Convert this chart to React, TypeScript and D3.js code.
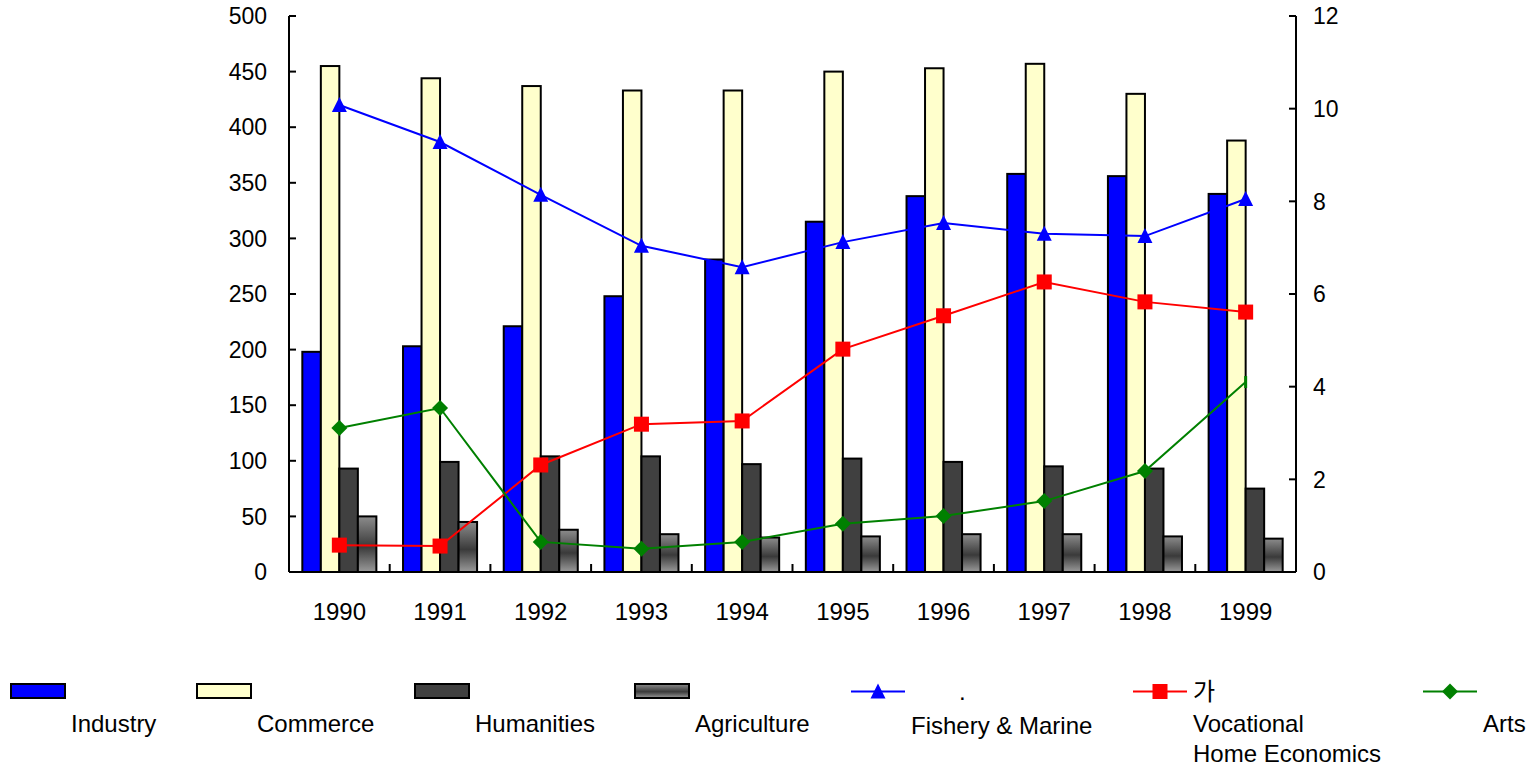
import * as d3 from "d3";

const years = ["1990", "1991", "1992", "1993", "1994", "1995", "1996", "1997", "1998", "1999"];

// bar series (left axis)
const industry = [198, 203, 221, 248, 281, 315, 338, 358, 356, 340];
const commerce = [455, 444, 437, 433, 433, 450, 453, 457, 430, 388];
const humanities = [93, 99, 104, 104, 97, 102, 99, 95, 93, 75];
const agriculture = [50, 45, 38, 34, 31, 32, 34, 34, 32, 30];

// line series (right axis)
const fishery = [10.08, 9.28, 8.14, 7.04, 6.58, 7.12, 7.53, 7.3, 7.25, 8.05];
const vocational = [0.58, 0.56, 2.31, 3.19, 3.26, 4.81, 5.53, 6.26, 5.83, 5.61];
const arts = [3.11, 3.54, 0.65, 0.5, 0.65, 1.04, 1.21, 1.53, 2.18, 4.1];

const leftTicks = [0, 50, 100, 150, 200, 250, 300, 350, 400, 450, 500];
const rightTicks = [0, 2, 4, 6, 8, 10, 12];

const barSeries = [
  { key: "industry", values: industry, top: "", label: ["Industry"] },
  { key: "commerce", values: commerce, top: "", label: ["Commerce"] },
  { key: "humanities", values: humanities, top: "", label: ["Humanities"] },
  { key: "agriculture", values: agriculture, top: "", label: ["Agriculture"] },
];
const lineSeries = [
  { key: "fishery", values: fishery, top: ".", label: ["Fishery & Marine"] },
  { key: "vocational", values: vocational, top: "가", label: ["Vocational", "Home Economics"] },
  { key: "arts", values: arts, top: "", label: ["Arts"] },
];

const fills: Record<string, string> = {
  industry: "#0000ff",
  commerce: "#ffffcc",
  humanities: "#404040",
  agriculture: "url(#aggrad)",
};
const lineColors: Record<string, string> = {
  fishery: "#0000ff",
  vocational: "#ff0000",
  arts: "#008000",
};

const W = 1537;
const H = 767;
const left = 289;
const right = 1296;
const top = 16;
const bottom = 572;
const font = "'Liberation Sans', Arial, 'Noto Sans CJK KR', sans-serif";

function Marker({ kind, x, y }: { kind: string; x: number; y: number }) {
  const c = lineColors[kind];
  if (kind === "fishery") {
    return <path d={`M${x},${y - 8}L${x + 7.5},${y + 7}L${x - 7.5},${y + 7}Z`} fill={c} />;
  }
  if (kind === "vocational") {
    return <rect x={x - 7.5} y={y - 7.5} width={15} height={15} fill={c} />;
  }
  return <path d={`M${x},${y - 8}L${x + 8},${y}L${x},${y + 8}L${x - 8},${y}Z`} fill={c} />;
}

export default function App() {
  const x0 = d3.scaleBand().domain(years).range([left, right]).padding(0);
  const x1 = d3
    .scaleBand()
    .domain(barSeries.map((s) => s.key))
    .range([0, x0.bandwidth()])
    .paddingInner(0)
    .paddingOuter(0.72);
  const yL = d3.scaleLinear().domain([0, 500]).range([bottom, top]);
  const yR = d3.scaleLinear().domain([0, 12]).range([bottom, top]);
  const cx = (y: string) => x0(y)! + x0.bandwidth() / 2;

  const line = (vals: number[]) =>
    d3
      .line<number>()
      .x((_, i) => cx(years[i]))
      .y((d) => yR(d))(vals)!;

  // legend layout
  const legendX = [11, 197, 415, 635, 851, 1133, 1423];
  const legendItems = [...barSeries, ...lineSeries];

  return (
    <svg
      width={W}
      height={H}
      style={{ position: "absolute", left: 0, top: 0, background: "#fff" }}
      fontFamily={font}
    >
      <defs>
        <linearGradient id="aggrad" x1="0" y1="0" x2="0" y2="1">
          <stop offset="0%" stopColor="#8c8c8c" />
          <stop offset="55%" stopColor="#3a3a3a" />
          <stop offset="100%" stopColor="#9a9a9a" />
        </linearGradient>
      </defs>

      {/* bars */}
      {barSeries.map((s) =>
        s.values.map((v, i) => (
          <rect
            key={s.key + i}
            x={x0(years[i])! + x1(s.key)!}
            y={yL(v)}
            width={x1.bandwidth()}
            height={yL(0) - yL(v)}
            fill={fills[s.key]}
            stroke="#000"
            strokeWidth={2}
          />
        ))
      )}

      {/* lines */}
      {lineSeries.map((s) => (
        <g key={s.key}>
          <path d={line(s.values)} fill="none" stroke={lineColors[s.key]} strokeWidth={2} />
          {s.values.map((v, i) =>
            s.key === "arts" && i === s.values.length - 1 ? (
              <line
                key={i}
                x1={cx(years[i])}
                x2={cx(years[i])}
                y1={yR(v) - 6}
                y2={yR(v) + 6}
                stroke={lineColors[s.key]}
                strokeWidth={3}
              />
            ) : (
              <Marker key={i} kind={s.key} x={cx(years[i])} y={yR(v)} />
            )
          )}
        </g>
      ))}

      {/* axes */}
      <g stroke="#000" strokeWidth={2}>
        <line x1={left} x2={left} y1={top} y2={bottom} />
        <line x1={right} x2={right} y1={top} y2={bottom} />
        <line x1={left} x2={right} y1={bottom} y2={bottom} />
        {leftTicks.map((t) => (
          <line key={"l" + t} x1={left} x2={left + 7} y1={yL(t)} y2={yL(t)} />
        ))}
        {rightTicks.map((t) => (
          <line key={"r" + t} x1={right - 7} x2={right} y1={yR(t)} y2={yR(t)} />
        ))}
        {years.slice(1).map((y) => (
          <line key={"x" + y} x1={x0(y)} x2={x0(y)} y1={bottom} y2={bottom - 8} />
        ))}
      </g>
      <g fontSize={23} fill="#000">
        {leftTicks.map((t) => (
          <text key={"lt" + t} x={267} y={yL(t)} dy="0.36em" textAnchor="end">
            {t}
          </text>
        ))}
        {rightTicks.map((t) => (
          <text key={"rt" + t} x={1313} y={yR(t)} dy="0.36em" textAnchor="start">
            {t}
          </text>
        ))}
      </g>
      <g fontSize={24} fill="#000">
        {years.map((y) => (
          <text key={"xt" + y} x={cx(y)} y={620} textAnchor="middle">
            {y}
          </text>
        ))}
      </g>

      {/* legend */}
      <g fontSize={24} fill="#000">
        {legendItems.map((s, i) => {
          const lx = legendX[i];
          const isBar = i < barSeries.length;
          return (
            <g key={s.key}>
              {isBar ? (
                <rect x={lx} y={684} width={54} height={14} fill={fills[s.key]} stroke="#000" strokeWidth={2} />
              ) : (
                <>
                  <line x1={lx} x2={lx + 54} y1={691.5} y2={691.5} stroke={lineColors[s.key]} strokeWidth={2} />
                  <Marker kind={s.key} x={lx + 27} y={691.5} />
                </>
              )}
              {s.top && (
                <text x={s.top === "." ? lx + 108 : lx + 60} y={700}>
                  {s.top}
                </text>
              )}
              {s.label.map((l, j) => (
                <text key={j} x={lx + 60} y={(s.key === "fishery" ? 734 : 732) + j * 29.5}>
                  {l}
                </text>
              ))}
            </g>
          );
        })}
      </g>
    </svg>
  );
}
